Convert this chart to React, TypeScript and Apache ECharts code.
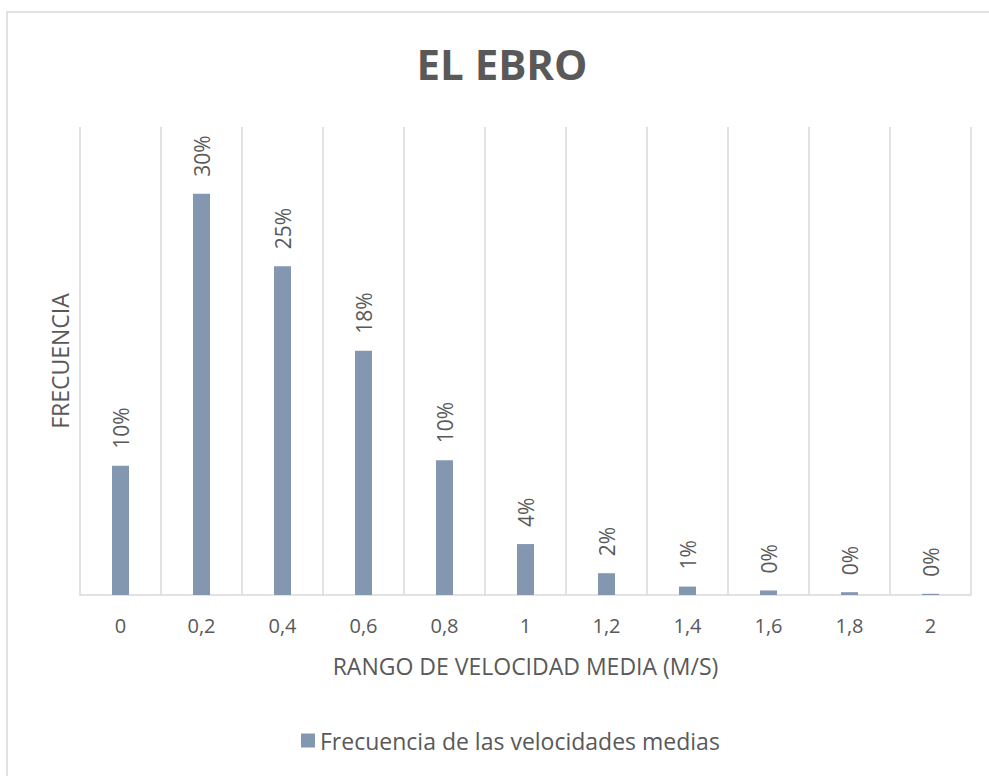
import React, { useEffect, useRef } from "react";
import * as echarts from "echarts";

// Mean-velocity bins (m/s) and the share of observations in each bin
const categories = ["0", "0,2", "0,4", "0,6", "0,8", "1", "1,2", "1,4", "1,6", "1,8", "2"];
const frecuencias = [0.0967, 0.3, 0.2458, 0.1826, 0.1008, 0.0381, 0.0163, 0.0063, 0.0034, 0.0021, 0.0009];

const seriesName = "Frecuencia de las velocidades medias";
const chartTitle = "EL EBRO";
const xAxisTitle = "RANGO DE VELOCIDAD MEDIA (M/S)";
const yAxisTitle = "FRECUENCIA";

const FONT = "'Open Sans', 'Noto Sans', sans-serif";
const TEXT = "#595959";
const GRID = "#d9d9d9";
const BAR = "#8497b0";

export default function App() {
  const ref = useRef<HTMLDivElement>(null);

  useEffect(() => {
    document.body.style.margin = "0";
    if (!ref.current) return;
    const chart = echarts.init(ref.current, undefined, { renderer: "svg" });
    chart.setOption({
      animation: false,
      backgroundColor: "#ffffff",
      textStyle: { fontFamily: FONT },
      title: {
        text: chartTitle,
        left: 502,
        top: 42,
        padding: 0,
        textAlign: "center",
        textStyle: { fontFamily: FONT, fontSize: 42, fontWeight: "bold", color: TEXT },
      },
      graphic: [
        {
          type: "rect",
          shape: { x: 7, y: 12, width: 1000, height: 800 },
          style: { fill: "none", stroke: GRID, lineWidth: 1.5 },
          silent: true,
          z: -1,
        },
      ],
      legend: {
        left: 301,
        top: 729,
        padding: 0,
        icon: "rect",
        itemWidth: 14,
        itemHeight: 14,
        itemGap: 8,
        textStyle: { fontFamily: FONT, fontSize: 23, color: TEXT },
        data: [seriesName],
      },
      grid: { left: 80, right: 18, top: 127, bottom: 181, containLabel: false },
      xAxis: {
        type: "category",
        data: categories,
        boundaryGap: true,
        axisLine: { show: true, lineStyle: { color: GRID, width: 1.5 } },
        axisTick: { show: false },
        splitLine: { show: true, lineStyle: { color: GRID, width: 1.5 } },
        axisLabel: { color: TEXT, fontFamily: FONT, fontSize: 20, margin: 20 },
        name: xAxisTitle,
        nameLocation: "middle",
        nameGap: 59,
        nameTextStyle: { color: TEXT, fontFamily: FONT, fontSize: 23 },
      },
      yAxis: {
        type: "value",
        min: 0,
        max: 0.35,
        axisLine: { show: false },
        axisTick: { show: false },
        axisLabel: { show: false },
        splitLine: { show: false },
        name: yAxisTitle,
        nameLocation: "middle",
        nameGap: 9,
        nameRotate: 90,
        nameTextStyle: { color: TEXT, fontFamily: FONT, fontSize: 23 },
      },
      series: [
        {
          name: seriesName,
          type: "bar",
          data: frecuencias,
          barWidth: 17,
          itemStyle: { color: BAR },
          label: {
            show: true,
            position: "top",
            distance: 17,
            rotate: 90,
            align: "left",
            verticalAlign: "middle",
            color: TEXT,
            fontFamily: FONT,
            fontSize: 21,
            formatter: (p: any) => `${Math.round(p.value * 100)}%`,
          },
        },
      ],
    });
    return () => chart.dispose();
  }, []);

  return <div ref={ref} style={{ width: 989, height: 776 }} />;
}
